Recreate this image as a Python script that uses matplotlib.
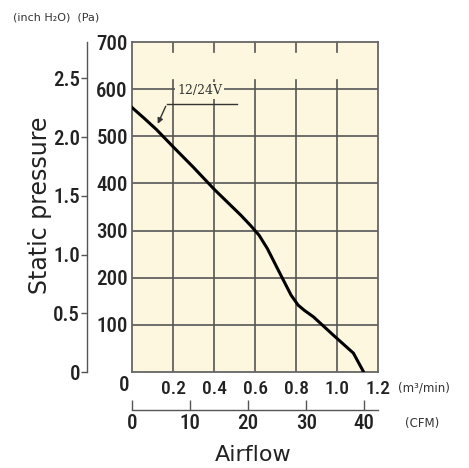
import matplotlib.pyplot as plt
import numpy as np

# airflow (m3/min) vs static pressure (Pa)
flow = [0.0, 0.06, 0.12, 0.2, 0.3, 0.4, 0.44, 0.53, 0.58, 0.62, 0.66, 0.73, 0.776, 0.81, 0.84, 0.885, 0.98, 1.08, 1.13]
pressure = [561, 538, 514, 478, 434, 388, 371, 333, 310, 290, 262, 202, 163, 142, 131, 117, 79, 40, 0]

pa_ticks = [100, 200, 300, 400, 500, 600, 700]
flow_ticks = [0.2, 0.4, 0.6, 0.8, 1.0, 1.2]
inch_ticks = [0, 0.5, 1.0, 1.5, 2.0, 2.5]
cfm_ticks = [0, 10, 20, 30, 40]

PA_PER_INCH = 249.09
M3_PER_CFM = 0.0283168

bg = '#fdf7df'
grid_c = '#555555'
txt_c = '#222222'
num_font = ['Roboto Condensed', 'DejaVu Sans']
num_kw = dict(family=num_font, fontsize=15, color=txt_c, fontweight='medium')

fig = plt.figure(figsize=(4.69, 4.68), dpi=100)
W, H = 469, 468
L, R, T, B = 132, 378, 42, 372
rect = [L / W, 1 - B / H, (R - L) / W, (B - T) / H]

ax = fig.add_axes(rect)
ax.set_facecolor(bg)
ax.set_xlim(0, 1.2)
ax.set_ylim(0, 700)
for s in ax.spines.values():
    s.set_color('#666666')
    s.set_linewidth(1.3)

# grid: full horizontal lines, vertical lines stop below the top, short ticks at the top
for p in pa_ticks[:-1]:
    ax.axhline(p, color=grid_c, lw=1.2, zorder=1)
for f in flow_ticks[:-1]:
    ax.plot([f, f], [0, 620], color=grid_c, lw=1.2, zorder=1)
    ax.plot([f, f], [678, 700], color=grid_c, lw=1.2, zorder=1)

ax.plot(flow, pressure, color='black', lw=2.2, zorder=3, solid_joinstyle='round')

ax.set_yticks(pa_ticks)
ax.set_yticklabels([str(p) for p in pa_ticks], **num_kw)
ax.set_xticks(flow_ticks)
ax.set_xticklabels(['%.1f' % f for f in flow_ticks], **dict(num_kw, fontsize=14))
ax.tick_params(length=0, pad=3)
ax.tick_params(axis='x', pad=6)
ax.text(-0.04, -8, '0', ha='center', va='top', **num_kw)
ax.text(1.297, -33, '(m³/min)', ha='left', va='center', fontsize=8.5, color='#333333')

# 12/24V label and leader
ax.text(0.33, 597, '12/24V', ha='center', va='center', fontfamily='DejaVu Serif', fontsize=9,
        color='#333333', bbox=dict(facecolor=bg, edgecolor='none', pad=1.5), zorder=4)
ax.plot([0.51, 0.17], [569, 569], color='#333333', lw=1.0, zorder=4)
ax.annotate('', xy=(0.12, 521), xytext=(0.17, 569),
            arrowprops=dict(arrowstyle='-|>', color='#333333', lw=1.0, mutation_scale=8), zorder=4)

# inch H2O axis on the left
ax2 = fig.add_axes([87 / W, rect[1], 0.001, rect[3]])
ax2.set_ylim(0, 700 / PA_PER_INCH)
ax2.set_xticks([])
for k in ['top', 'right', 'bottom']:
    ax2.spines[k].set_visible(False)
ax2.spines['left'].set_color('#555555')
ax2.spines['left'].set_linewidth(1.0)
ax2.set_yticks(inch_ticks)
ax2.set_yticklabels(['0'] + ['%.1f' % v for v in inch_ticks[1:]], **num_kw)
ax2.tick_params(axis='y', direction='out', length=4, width=1.0, color='#555555', pad=1)
ax2.patch.set_alpha(0)

# CFM axis below
ax3 = fig.add_axes([rect[0], 1 - 410 / H, rect[2], 0.001])
ax3.set_xlim(0, 1.2 / M3_PER_CFM)
ax3.set_yticks([])
for k in ['top', 'right', 'left']:
    ax3.spines[k].set_visible(False)
ax3.spines['bottom'].set_color('#555555')
ax3.spines['bottom'].set_linewidth(1.0)
ax3.set_xticks(cfm_ticks)
ax3.set_xticklabels([str(c) for c in cfm_ticks], **num_kw)
ax3.tick_params(axis='x', direction='in', length=7, width=1.0, color='#555555', pad=3)
ax3.patch.set_alpha(0)

fig.text(422 / W, 1 - 424 / H, '(CFM)', ha='center', va='center', fontsize=8.5, color='#333333')
fig.text(253 / W, 1 - 455 / H, 'Airflow', ha='center', va='center', fontsize=16, color=txt_c)
fig.text(40 / W, 1 - 205 / H, 'Static pressure', ha='center', va='center', rotation=90,
         fontsize=17, color=txt_c)
fig.text(13 / W, 1 - 17 / H, '(inch H₂O)  (Pa)', ha='left', va='center', fontsize=8, color='#333333')

fig.savefig('out.png', dpi=100, facecolor='white')
